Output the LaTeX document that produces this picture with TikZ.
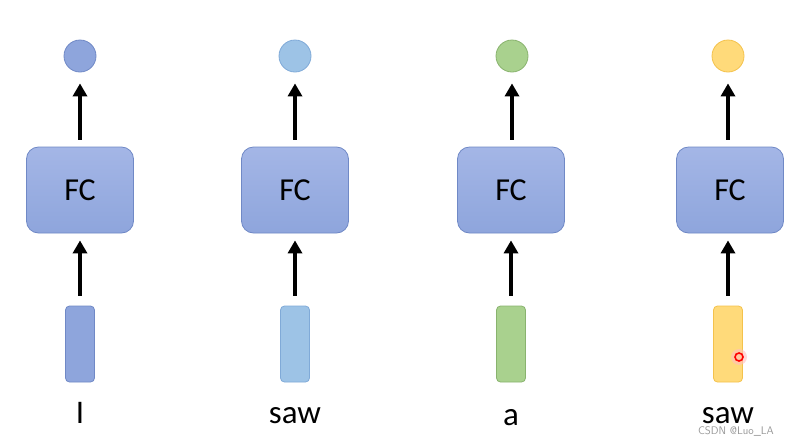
\documentclass[tikz,border=0pt]{standalone}
\usepackage{fontspec}
\setmainfont{Carlito}
\usetikzlibrary{arrows.meta}
\definecolor{bluef}{HTML}{8EA5DC}
\definecolor{bluel}{HTML}{A4B6E6}
\definecolor{blued}{HTML}{7089C6}
\definecolor{skyf}{HTML}{9DC3E6}
\definecolor{skyd}{HTML}{80AAD8}
\definecolor{grnf}{HTML}{A9D18E}
\definecolor{grnd}{HTML}{89B36E}
\definecolor{yelf}{HTML}{FFDA7A}
\definecolor{yeld}{HTML}{F4C24C}
\tikzset{
  fcbox/.style={draw=blued, line width=0.8pt, rounded corners=12pt, top color=bluel, bottom color=bluef,
    minimum width=107pt, minimum height=86pt, inner sep=0pt, font=\fontsize{32}{32}\selectfont},
  outdot/.style={circle, line width=0.8pt, minimum size=32pt, inner sep=0pt},
  inbar/.style={rounded corners=4pt, line width=0.8pt, minimum width=29pt, minimum height=76pt, inner sep=0pt},
  lbl/.style={font=\fontsize{33}{33}\selectfont, anchor=base, inner sep=0pt},
  arr/.style={-{Triangle[length=13pt,width=14pt]}, line width=4pt, black},
}
\begin{document}
\begin{tikzpicture}[x=1pt,y=-1pt]
\useasboundingbox (0,0) rectangle (789,445);
\fill[white] (0,0) rectangle (789,445);
% column 1
\node[outdot, draw=blued, fill=bluef] (o1) at (80,56) {};
\node[fcbox] (f1) at (80,190) {FC};
\node[inbar, draw=blued, fill=bluef] (i1) at (80,344) {};
\node[lbl] (l1) at (80,423) {I};
% column 2
\node[outdot, draw=skyd, fill=skyf] (o2) at (295,56) {};
\node[fcbox] (f2) at (295,190) {FC};
\node[inbar, draw=skyd, fill=skyf] (i2) at (295,344) {};
\node[lbl] (l2) at (295,423) {saw};
% column 3
\node[outdot, draw=grnd, fill=grnf] (o3) at (512,56) {};
\node[fcbox] (f3) at (511,190) {FC};
\node[inbar, draw=grnd, fill=grnf] (i3) at (511,344) {};
\node[lbl] (l3) at (511,425) {a};
% column 4
\node[outdot, draw=yeld, fill=yelf] (o4) at (728,56) {};
\node[fcbox] (f4) at (730,190) {FC};
\node[inbar, draw=yeld, fill=yelf] (i4) at (728,344) {};
\node[lbl] (l4) at (728,423) {saw};
% arrows
\foreach \k in {1,2,3,4}{
  \draw[arr, shorten <=10pt, shorten >=7pt] (i\k.north) -- (i\k.north |- f\k.south);
  \draw[arr, shorten <=7pt, shorten >=11pt] (f\k.north -| o\k.south) -- (o\k.south);
}
% pointer
\fill[red!25, opacity=0.6] (739,357) circle (8pt);
\node[circle, draw=red, line width=1.6pt, minimum size=8pt, inner sep=0pt] (ptr) at (739,357) {};
% watermark
\node[font=\sffamily\fontsize{11}{11}\selectfont, text=gray!80, anchor=base east, inner sep=0pt] (wm) at (774,434) {CSDN @Luo\_LA};
\end{tikzpicture}
\end{document}
